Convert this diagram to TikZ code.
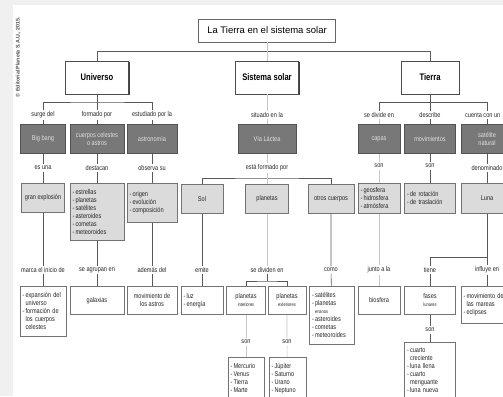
\documentclass[tikz,border=0pt]{standalone}
\usepackage{fontspec}
\setmainfont{Liberation Sans}
\newfontfamily\narrowsans[FakeStretch=0.8]{Liberation Sans}
\usepackage{tikz}
\usetikzlibrary{shadows}
\newcommand{\txt}{\narrowsans\fontsize{7}{8}\selectfont}
\newcommand{\tinytxt}{\narrowsans\fontsize{5}{6}\selectfont}
\newcommand{\itm}{-\,}
\newcommand{\cnt}{\hphantom{-\,}}
\tikzset{
  link/.style      = {draw=black!65,line width=0.6pt},
  faint/.style     = {draw=black!22,line width=0.6pt},
  lbl/.style       = {font=\txt,text=black!85,inner sep=1.5pt},
  titlebox/.style  = {draw=black!60,fill=white,line width=0.8pt,minimum width=137pt,
                      minimum height=23pt,font=\fontsize{9.5}{11}\selectfont},
  mainbox/.style   = {draw=black!70,fill=white,line width=0.7pt,minimum height=33pt,
                      font=\narrowsans\bfseries\fontsize{9.5}{11}\selectfont,
                      drop shadow={shadow xshift=1.4pt,shadow yshift=-1.4pt,fill=black!75,opacity=1}},
  box/.style       = {draw=black!55,line width=0.8pt,anchor=north,font=\txt,text=black!85,
                      inner xsep=2.5pt,inner ysep=1pt},
  darkbox/.style   = {box,draw=black!68,fill=black!53,text=black!12,align=center,
                      minimum width=#1pt,minimum height=29pt},
  graybox/.style   = {box,fill=black!14,align=center,minimum width=#1pt},
  whitebox/.style  = {box,fill=white,align=center,minimum width=#1pt},
  graylist/.style  = {box,fill=black!14,align=left,text width=#1pt},
  whitelist/.style = {box,fill=white,align=left,text width=#1pt}
}

\begin{document}
\begin{tikzpicture}[x=1pt,y=-1pt]
  \useasboundingbox (0,0) rectangle (503,396);
  \clip (0,0) rectangle (503,396);
  \fill[black!6] (0,0) rectangle (503,396);
  \fill[white] (13,5) rectangle (503,396);
  \node[rotate=90,font=\bfseries\fontsize{5.3}{6}\selectfont,text=black!70] (copy) at (18,57)
    {© Editorial Planeta S.A.U., 2015.};

  % title and the three main boxes
  \node[titlebox] (titulo) at (267,30.5) {La Tierra en el sistema solar};
  \node[mainbox,minimum width=63pt] (universo) at (97,77.5) {Universo};
  \node[mainbox,minimum width=63pt] (sistema) at (267,77.5) {Sistema solar};
  \node[mainbox,minimum width=58pt] (tierra) at (430,77.5) {Tierra};

  \node[lbl] (lsurge)    at (43,115)  {surge del};
  \node[lbl] (lformado)  at (97,115)  {formado por};
  \node[lbl] (lestud)    at (152,115) {estudiado por la};
  \node[lbl] (lsituado)  at (267,115) {situado en la};
  \node[lbl] (ldivide)   at (379,115) {se divide en};
  \node[lbl] (ldescribe) at (430,115) {describe};
  \node[lbl,anchor=east] (lcuenta) at (502,115) {cuenta con un};

  \node[darkbox=45] (bigbang)  at (43,124)  {Big bang};
  \node[darkbox=54] (cuerpos)  at (97,124)  {cuerpos celestes\\o astros};
  \node[darkbox=50] (astro)    at (152,124) {astronomía};
  \node[darkbox=58] (via)      at (267,124) {Vía Láctea};
  \node[darkbox=42] (capas)    at (379,124) {capas};
  \node[darkbox=51] (movs)     at (430,124) {movimientos};
  \node[darkbox=52] (satelite) at (487,124) {satélite\\natural};

  \node[lbl] (les)       at (43,168)  {es una};
  \node[lbl] (ldestacan) at (97,168)  {destacan};
  \node[lbl] (lobserva)  at (152,168) {observa su};
  \node[lbl] (lesta)     at (267,168) {está formado por};
  \node[lbl] (lson1)     at (379,166) {son};
  \node[lbl] (lson2)     at (430,166) {son};
  \node[lbl] (ldenom)    at (487,168) {denominado};

  \node[graybox=43,minimum height=29pt] (granexp) at (43,183) {gran explosión};
  \node[graylist=49,minimum height=57pt] (estrellas) at (97,183)
    {\itm estrellas\\\itm planetas\\\itm satélites\\\itm asteroides\\\itm cometas\\\itm meteoroides};
  \node[graylist=45,minimum height=39pt] (origen) at (152,183)
    {\itm origen\\\itm evolución\\\itm composición};
  \node[graybox=42,minimum height=29pt] (sol)      at (202,184) {Sol};
  \node[graybox=43,minimum height=29pt] (planetas) at (267,184) {planetas};
  \node[graybox=46,minimum height=29pt] (otros)    at (331,184) {otros cuerpos};
  \node[graylist=37,minimum height=30pt] (capaslist) at (379,183)
    {\itm geosfera\\\itm hidrosfera\\\itm atmósfera};
  \node[graylist=46,minimum height=30pt] (movlist) at (430,183)
    {\itm de rotación\\\itm de traslación};
  \node[graybox=52,minimum height=30pt] (luna) at (487,183) {Luna};

  \node[lbl] (lmarca)   at (43,270)  {marca el inicio de};
  \node[lbl] (lagrupan) at (97,270)  {se agrupan en};
  \node[lbl] (lademas)  at (152,270) {además del};
  \node[lbl] (lemite)   at (202,270) {emite};
  \node[lbl] (ldividen) at (267,270) {se dividen en};
  \node[lbl] (lcomo)    at (331,270) {como};
  \node[lbl] (ljunto)   at (379,270) {junto a la};
  \node[lbl] (ltiene)   at (430,270) {tiene};
  \node[lbl] (linfluye) at (487,270) {influye en};

  \node[whitelist=41,minimum height=50pt] (expansion) at (43,286)
    {\itm expansión del\\\cnt universo\\\itm formación de\\\cnt los cuerpos\\\cnt celestes};
  \node[whitebox=54,minimum height=28pt] (galaxias)  at (97,286)  {galaxias};
  \node[whitebox=50,minimum height=28pt] (movastros) at (152,286) {movimiento de\\los astros};
  \node[whitelist=37,minimum height=28pt] (luz) at (202,286) {\itm luz\\\itm energía};
  \node[whitebox=39,minimum height=28pt] (pint) at (246,286) {planetas\\{\tinytxt interiores}};
  \node[whitebox=38,minimum height=28pt] (pext) at (287,286) {planetas\\{\tinytxt exteriores}};
  \node[whitelist=40,minimum height=58pt] (otroslist) at (332,286)
    {\itm satélites\\\itm planetas\\\cnt{\tinytxt enanos}\\\itm asteroides\\\itm cometas\\\itm meteoroides};
  \node[whitebox=42,minimum height=28pt] (biosfera) at (379,286) {biosfera};
  \node[whitebox=51,minimum height=28pt] (fases)    at (430,286) {fases\\{\tinytxt lunares}};
  \node[whitelist=47,minimum height=37pt] (mareas) at (487,286)
    {\itm movimiento de\\\cnt las mareas\\\itm eclipses};

  \node[lbl] (lson3) at (246,342) {son};
  \node[lbl] (lson4) at (287,342) {son};
  \node[lbl] (lson5) at (430,330) {son};

  \node[whitelist=31,minimum height=42pt] (mercurio) at (246,357)
    {\itm Mercurio\\\itm Venus\\\itm Tierra\\\itm Marte};
  \node[whitelist=32,minimum height=42pt] (jupiter) at (287.5,357)
    {\itm Júpiter\\\itm Saturno\\\itm Urano\\\itm Neptuno};
  \node[whitelist=46,minimum height=56pt] (cuarto) at (430,342)
    {\itm cuarto\\\cnt creciente\\\itm luna llena\\\itm cuarto\\\cnt menguante\\\itm luna nueva};

  % branch points
  \coordinate (ubr) at (97,102);
  \coordinate (tbr) at (430,102);
  \coordinate (cbr) at (487,102);
  \coordinate (sbr) at (267,178);
  \coordinate (lbr) at (487,257);
  \coordinate (pbr) at (267,281);

  \draw[link] (universo.north) -- ++(0,-9) -| (tierra.north);
  \draw[link] (lsurge.north) |- (ubr) -| (lestud.north);
  \draw[link] (ldivide.north) |- (cbr) -- (lcuenta.north -| cbr);
  \draw[link] (sol.north) |- (sbr) -| (otros.north);
  \draw[link] (lbr) -| (ltiene.north);
  \draw[link] (ldividen) -- (pbr);
  \draw[link] (pint.north) |- (pbr) -| (pext.north);

  \draw[link] (universo) -- (lformado);
  \draw[link] (bigbang) -- (les) (les) -- (granexp) (granexp) -- (lmarca) (lmarca) -- (expansion);
  \draw[link] (lsurge) -- (bigbang);
  \draw[link] (lformado) -- (cuerpos) (cuerpos) -- (ldestacan) (ldestacan) -- (estrellas)
              (estrellas) -- (lagrupan) (lagrupan) -- (galaxias);
  \draw[link] (lestud) -- (astro) (astro) -- (lobserva) (lobserva) -- (origen)
              (origen) -- (lademas) (lademas) -- (movastros);
  \draw[link] (sol) -- (lemite) (lemite) -- (luz);
  \draw[link] (otros) -- (lcomo) (lcomo) -- (otroslist);
  \draw[link] (tierra) -- (ldescribe) (ldescribe) -- (movs) (movs) -- (lson2) (lson2) -- (movlist);
  \draw[link] (lcuenta.south -| satelite) -- (satelite) (satelite) -- (ldenom) (ldenom) -- (luna)
              (luna) -- (linfluye) (linfluye) -- (mareas);
  \draw[link] (ltiene) -- (fases) (fases) -- (lson5) (lson5) -- (cuarto);

  \draw[faint] (titulo) -- (sistema) (sistema) -- (lsituado) (lsituado) -- (via)
               (via) -- (lesta) (lesta) -- (planetas) (planetas) -- (ldividen);
  \draw[faint] (ldivide) -- (capas) (capas) -- (lson1) (lson1) -- (capaslist)
               (capaslist) -- (ljunto) (ljunto) -- (biosfera);
  \draw[faint] (pint) -- (lson3) (lson3) -- (mercurio);
  \draw[faint] (pext) -- (lson4) (lson4) -- (jupiter);
\end{tikzpicture}
\end{document}
